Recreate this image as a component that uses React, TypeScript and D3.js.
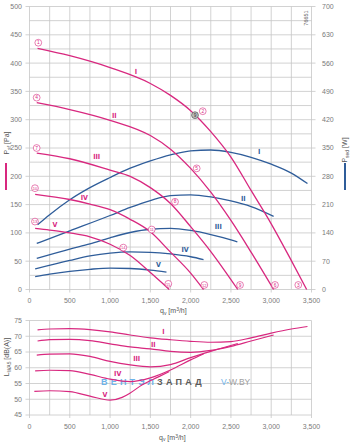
import * as d3 from "d3";

// fan curves, speeds I..V
const speeds = ["I", "II", "III", "IV", "V"];

const qTicks = [0, 500, 1000, 1500, 2000, 2500, 3000, 3500];
const paTicks = [0, 50, 100, 150, 200, 250, 300, 350, 400, 450, 500];
const wTicks = [0, 70, 140, 210, 280, 350, 420, 490, 560, 630, 700];
const dbTicks = [45, 50, 55, 60, 65, 70, 75];

// static pressure [Pa] vs flow [m3/h]
const pressI = [[100, 426], [500, 413], [1000, 392], [1500, 364], [1750, 343], [2000, 316], [2250, 279], [2500, 234], [2750, 175], [3000, 116], [3250, 51], [3440, 0]];
const pressII = [[90, 330], [500, 318], [1000, 299], [1500, 272], [1750, 248], [2000, 214], [2250, 172], [2500, 122], [2750, 66], [3030, 0]];
const pressIII = [[90, 241], [500, 231], [1000, 211], [1250, 200], [1500, 180], [1750, 152], [2000, 111], [2250, 67], [2585, 0]];
const pressIV = [[70, 168], [500, 159], [750, 151], [1000, 141], [1250, 124], [1500, 102], [1750, 66], [2000, 29], [2160, 0]];
const pressV = [[70, 108], [250, 105], [500, 100], [750, 93], [1000, 80], [1250, 60], [1500, 30], [1735, 0]];

// power input [W]
const powI = [[100, 160], [250, 185], [500, 222], [750, 252], [1000, 277], [1250, 300], [1500, 318], [1750, 333], [2000, 343], [2250, 345], [2500, 339], [2750, 327], [3000, 310], [3250, 288], [3450, 262]];
const powII = [[90, 114], [500, 145], [1000, 183], [1250, 203], [1500, 220], [1750, 232], [2000, 234], [2250, 229], [2500, 219], [2750, 205], [3030, 181]];
const powIII = [[90, 77], [500, 100], [750, 113], [1000, 128], [1250, 141], [1500, 149], [1750, 151], [2000, 146], [2250, 136], [2500, 123], [2580, 118]];
const powIV = [[70, 51], [500, 72], [750, 83], [1000, 90], [1250, 93], [1500, 92], [1750, 88], [2000, 81], [2160, 74]];
const powV = [[70, 32], [250, 38], [500, 45], [750, 50], [1000, 53], [1250, 52], [1500, 48], [1700, 43]];

// sound power [dB(A)]
const noiseI = [[100, 72.0], [250, 72.3], [500, 72.4], [750, 72.1], [1000, 71.4], [1250, 70.4], [1500, 69.5], [1750, 68.9], [2000, 68.4], [2250, 68.1], [2500, 68.3], [2750, 69.5], [3000, 71.0], [3250, 72.3], [3450, 73.1]];
const noiseII = [[100, 68.5], [250, 68.9], [500, 69.0], [750, 68.6], [1000, 67.6], [1250, 66.6], [1500, 66.0], [1750, 65.2], [2000, 64.9], [2250, 65.5], [2500, 66.8], [2750, 68.5], [3030, 70.4]];
const noiseIII = [[90, 64.0], [250, 64.3], [500, 64.4], [750, 63.6], [1000, 62.0], [1250, 60.9], [1500, 60.3], [1750, 61.0], [2000, 63.2], [2250, 65.2], [2585, 67.7]];
const noiseIV = [[70, 59.0], [250, 59.2], [500, 59.1], [750, 57.9], [1000, 56.4], [1250, 55.6], [1500, 56.8], [1750, 59.3], [2000, 62.5], [2160, 64.4]];
const noiseV = [[60, 52.5], [250, 52.7], [500, 52.4], [750, 51.0], [1000, 49.7], [1150, 50.6], [1250, 52.0], [1400, 54.6], [1600, 57.1], [1735, 58.8]];

const pressure = [pressI, pressII, pressIII, pressIV, pressV];
const power = [powI, powII, powIII, powIV, powV];
const noise = [noiseI, noiseII, noiseIII, noiseIV, noiseV];

// operating point markers (number, q, Pa)
const markers = [
  [1, 109, 436], [4, 89, 339], [7, 89, 250], [10, 68, 179], [13, 68, 120],
  [2, 2150, 315], [5, 2075, 214], [8, 1806, 155], [11, 1517, 106], [14, 1164, 74],
  [3, 3336, 8], [6, 3047, 8], [9, 2613, 8], [12, 2170, 8], [15, 1723, 10],
];
const greyMarker = [9, 2054, 308];

// roman labels: [q, value]
const pressLabels = [[1322, 386], [1052, 307], [834, 235], [680, 162], [316, 114]];
const powLabels = [[2852, 341], [2654, 226], [2343, 155], [1930, 98], [1599, 61]];
const noiseLabels = [[1661, 71.5], [1536, 67.3], [1330, 63.0], [1095, 58.3], [937, 51.6]];

const MAGENTA = "#d8287f";
const BLUE = "#2f5d9a";
const GRID = "#c6c6c6";
const TXT = "#7a7a7a";
const FONT = "'Liberation Sans', Arial, sans-serif";

const x = d3.scaleLinear().domain([0, 3500]).range([29.5, 311.5]);
const yP = d3.scaleLinear().domain([0, 500]).range([289.5, 6.5]);
const yW = d3.scaleLinear().domain([0, 700]).range([289.5, 6.5]);
const yL = d3.scaleLinear().domain([45, 75]).range([415, 320.5]);

const fmt = d3.format(",");

const App = () => {
  const lineP = d3.line<number[]>().x((d) => x(d[0])).y((d) => yP(d[1])).curve(d3.curveMonotoneX);
  const lineW = d3.line<number[]>().x((d) => x(d[0])).y((d) => yW(d[1])).curve(d3.curveMonotoneX);
  const lineL = d3.line<number[]>().x((d) => x(d[0])).y((d) => yL(d[1])).curve(d3.curveMonotoneX);

  const vGrid = d3.range(0, 3501, 250);
  const hGridTop = d3.range(0, 501, 25);

  const roman = (s: string, cx: number, cy: number, color: string, key: string) => (
    <text key={key} x={cx} y={cy + 2.5} fill={color} fontSize={7} fontWeight="bold"
      fontFamily="'DejaVu Sans Condensed', 'DejaVu Sans', sans-serif" textAnchor="middle">{s}</text>
  );

  return (
    <svg width={353} height={444} style={{ position: "fixed", left: 0, top: 0, background: "#fff" }}
      fontFamily={FONT}>
      {/* top chart grid */}
      <g stroke={GRID} strokeWidth={0.8}>
        {vGrid.map((q) => (
          <line key={"v" + q} x1={x(q)} x2={x(q)} y1={yP(500)} y2={yP(0) + (q % 500 === 0 ? 3 : 0)} />
        ))}
        {hGridTop.map((p) => (
          <line key={"h" + p} x1={x(0) - (p % 50 === 0 ? 4 : 0)} x2={x(3500) + (p % 50 === 0 ? 4 : 0)} y1={yP(p)} y2={yP(p)} />
        ))}
      </g>
      {/* left ticks */}
      {paTicks.map((p) => (
        <text key={"pt" + p} x={22} y={yP(p) + 2.4} fontSize={7} fill={TXT} textAnchor="end">{p}</text>
      ))}
      {wTicks.map((w) => (
        <text key={"wt" + w} x={322} y={yW(w) + 2.4} fontSize={7} fill={TXT}>{w}</text>
      ))}
      {qTicks.map((q) => (
        <text key={"qt" + q} x={x(q)} y={302.5} fontSize={7} fill={TXT} textAnchor="middle">{fmt(q)}</text>
      ))}
      <text x={160} y={313} fontSize={7} fill="#555">
        q<tspan fontSize={5} dy={1.5}>v</tspan><tspan dy={-1.5}> [m</tspan><tspan fontSize={5} dy={-2}>3</tspan><tspan dy={2}>/h]</tspan>
      </text>
      <text transform="translate(9,143) rotate(-90)" fontSize={7} fill="#555" textAnchor="middle">
        P<tspan fontSize={5} dy={1.5}>sf</tspan><tspan dy={-1.5}> [Pa]</tspan>
      </text>
      <line x1={6} x2={6} y1={163} y2={190} stroke={MAGENTA} strokeWidth={2} />
      <text transform="translate(347,150) rotate(-90)" fontSize={7} fill="#555" textAnchor="middle">
        P<tspan fontSize={5} dy={1.5}>sed</tspan><tspan dy={-1.5}> [W]</tspan>
      </text>
      <line x1={345} x2={345} y1={163} y2={190} stroke={BLUE} strokeWidth={2} />
      <text transform="translate(308,18) rotate(-90)" fontSize={5.5} fill="#666" textAnchor="middle">76651</text>

      {/* power curves */}
      <g fill="none" stroke={BLUE} strokeWidth={1.3}>
        {power.map((d, i) => <path key={"w" + i} d={lineW(d) ?? ""} />)}
      </g>
      {/* pressure curves */}
      <g fill="none" stroke={MAGENTA} strokeWidth={1.3}>
        {pressure.map((d, i) => <path key={"p" + i} d={lineP(d) ?? ""} />)}
      </g>
      {pressLabels.map((d, i) => roman(speeds[i], x(d[0]), yP(d[1]), MAGENTA, "pl" + i))}
      {powLabels.map((d, i) => roman(speeds[i], x(d[0]), yW(d[1]), BLUE, "wl" + i))}
      {markers.map((m) => (
        <g key={"m" + m[0]} transform={`translate(${x(m[1])},${yP(m[2])})`}>
          <circle r={3.4} fill="#fff" stroke={MAGENTA} strokeWidth={0.6} />
          <text y={1.7} fontSize={m[0] > 9 ? 4 : 4.8} fill={MAGENTA} textAnchor="middle">{m[0]}</text>
        </g>
      ))}
      <g transform={`translate(${x(greyMarker[1])},${yP(greyMarker[2])})`}>
        <circle r={3.4} fill="#bdbdbd" stroke="#555" strokeWidth={0.7} />
        <text y={1.7} fontSize={4.8} fill="#333" textAnchor="middle">{greyMarker[0]}</text>
      </g>

      {/* bottom chart */}
      <g stroke={GRID} strokeWidth={0.8}>
        {vGrid.map((q) => (
          <line key={"bv" + q} x1={x(q)} x2={x(q)} y1={yL(75)} y2={yL(45) + (q % 500 === 0 ? 3 : 0)} />
        ))}
        {dbTicks.map((l) => (
          <line key={"bh" + l} x1={x(0) - 4} x2={x(3500)} y1={yL(l)} y2={yL(l)} />
        ))}
      </g>
      {dbTicks.map((l) => (
        <text key={"lt" + l} x={22} y={yL(l) + 2.4} fontSize={7} fill={TXT} textAnchor="end">{l}</text>
      ))}
      {qTicks.map((q) => (
        <text key={"bq" + q} x={x(q)} y={428.5} fontSize={7} fill={TXT} textAnchor="middle">{fmt(q)}</text>
      ))}
      <text x={159} y={439.5} fontSize={7} fill="#555">
        q<tspan fontSize={5} dy={1.5}>v</tspan><tspan dy={-1.5}> [m</tspan><tspan fontSize={5} dy={-2}>3</tspan><tspan dy={2}>/h]</tspan>
      </text>
      <text transform="translate(9,357) rotate(-90)" fontSize={7} fill="#555" textAnchor="middle">
        L<tspan fontSize={5} dy={1.5}>WA5</tspan><tspan dy={-1.5}> [dB(A)]</tspan>
      </text>

      {/* watermark */}
      <text x={101} y={385} fontSize={9} fontWeight="bold" letterSpacing={3.2}>
        <tspan fill="#6db3ea">ВЕНТЭЛ</tspan><tspan fill="#5a5a5a">ЗАПАД</tspan>
      </text>
      <text x={221} y={385} fontSize={8.5}>
        <tspan fill="#6db3ea">V-</tspan><tspan fill="#a0a0a0">W.BY</tspan>
      </text>

      <g fill="none" stroke={MAGENTA} strokeWidth={1.2}>
        {noise.map((d, i) => <path key={"n" + i} d={lineL(d) ?? ""} />)}
      </g>
      {noiseLabels.map((d, i) => roman(speeds[i], x(d[0]), yL(d[1]), MAGENTA, "nl" + i))}
    </svg>
  );
};

export default App;
